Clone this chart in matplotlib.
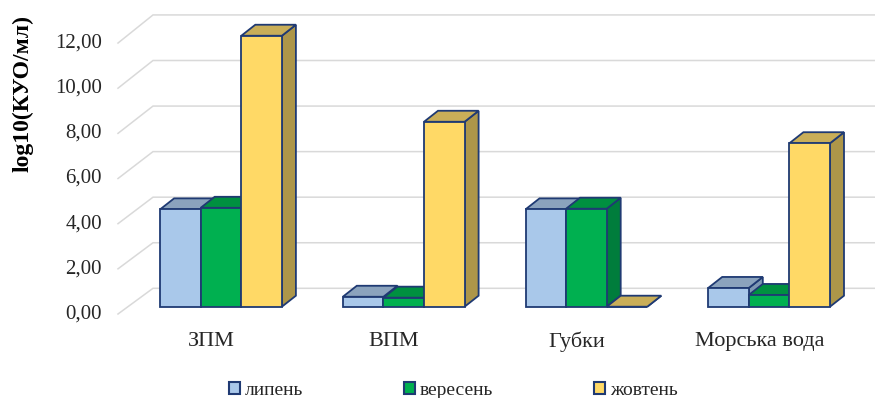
import matplotlib.pyplot as plt
from matplotlib.patches import Polygon, Rectangle

plt.rcParams['font.family'] = ['Liberation Serif', 'DejaVu Serif']

categories = ["ЗПМ", "ВПМ", "Губки", "Морська вода"]
months = ["липень", "вересень", "жовтень"]
lipen = [4.31, 0.44, 4.31, 0.83]
veresen = [4.38, 0.40, 4.34, 0.52]
zhovten = [12.0, 8.19, 0.0, 7.24]
yticks = [0, 2, 4, 6, 8, 10, 12]

series = [lipen, veresen, zhovten]
front_c = ["#a9c8ea", "#00b050", "#ffd966"]
top_c = ["#8ba3bd", "#009040", "#c9ae58"]
side_c = ["#7f98b3", "#007d3c", "#ad9649"]
edge_c = "#1f3a73"
grid_c = "#d9d9d9"
text_c = "#262626"

W, H = 875, 398
fig = plt.figure(figsize=(W / 100, H / 100), dpi=100)
ax = fig.add_axes([0, 0, 1, 1])

# data units: one category per step on x, value units on y (bar front plane)
step_px, unit_px = 182.7, 22.58
x0_px, y0_px = 221, 306.7
ax.set_xlim(-x0_px / step_px, (W - x0_px) / step_px)
ax.set_ylim(-(H - y0_px) / unit_px, y0_px / unit_px)
ax.axis('off')

def px_x(p):
    return p / step_px

def px_y(p):
    return p / unit_px

bw = px_x(40.6)                          # bar width
ddx, ddy = px_x(14), px_y(11)            # bar depth
front_dx, front_dy = px_x(-9.8), px_y(-7.3)   # floor front edge
back_dx, back_dy = px_x(24.8), px_y(18.4)     # back wall
wall_k = 22.78 / 22.58
left_front = px_x(118 - x0_px)
left_back = left_front + px_x(35)
x_right = ax.get_xlim()[1]

# walls: gridlines on the back wall plus the slanted lines on the side wall
for v in yticks:
    yb = v * wall_k + back_dy
    yf = v + front_dy
    ax.plot([left_front, left_back, x_right], [yf, yb, yb],
            color=grid_c, lw=1.1, zorder=0, solid_joinstyle='miter')
    ax.text(left_front - px_x(16), yf, f"{v:.2f}".replace('.', ','),
            ha='right', va='center', fontsize=15, color=text_c)

ax.text(px_x(23 - x0_px), px_y(y0_px - 93), "log10(КУО/мл)", rotation=90,
        ha='center', va='center', fontsize=17, fontweight='bold')

for i, name in enumerate(categories):
    ax.text(i + front_dx, front_dy - px_y(27.7), name, ha='center',
            va='center', fontsize=16, color=text_c)

lw = 1.3
for j, vals in enumerate(series):
    lefts = [i - 1.5 * bw + j * bw for i in range(len(categories))]
    for xl, h in zip(lefts, vals):
        xr = xl + bw
        ax.add_patch(Polygon([(xr, 0), (xr + ddx, ddy), (xr + ddx, h + ddy), (xr, h)],
                             fc=side_c[j], ec=edge_c, lw=lw, zorder=2 * j + 1))
        ax.add_patch(Polygon([(xl, h), (xr, h), (xr + ddx, h + ddy), (xl + ddx, h + ddy)],
                             fc=top_c[j], ec=edge_c, lw=lw, zorder=2 * j + 1))
    ax.bar(lefts, vals, width=bw, align='edge', color=front_c[j],
           edgecolor=edge_c, linewidth=lw, zorder=2 * j + 2)

handles = [Rectangle((0, 0), 1, 1, fc=front_c[j], ec=edge_c, lw=1.5) for j in range(3)]
fig.legend(handles, months, loc='center', bbox_to_anchor=(0.518, 0.019), ncol=3,
           frameon=False, fontsize=14, handlelength=0.55, handleheight=0.55,
           handletextpad=0.25, columnspacing=5.2, borderpad=0,
           labelcolor=text_c)

fig.savefig("out.png", dpi=100)
